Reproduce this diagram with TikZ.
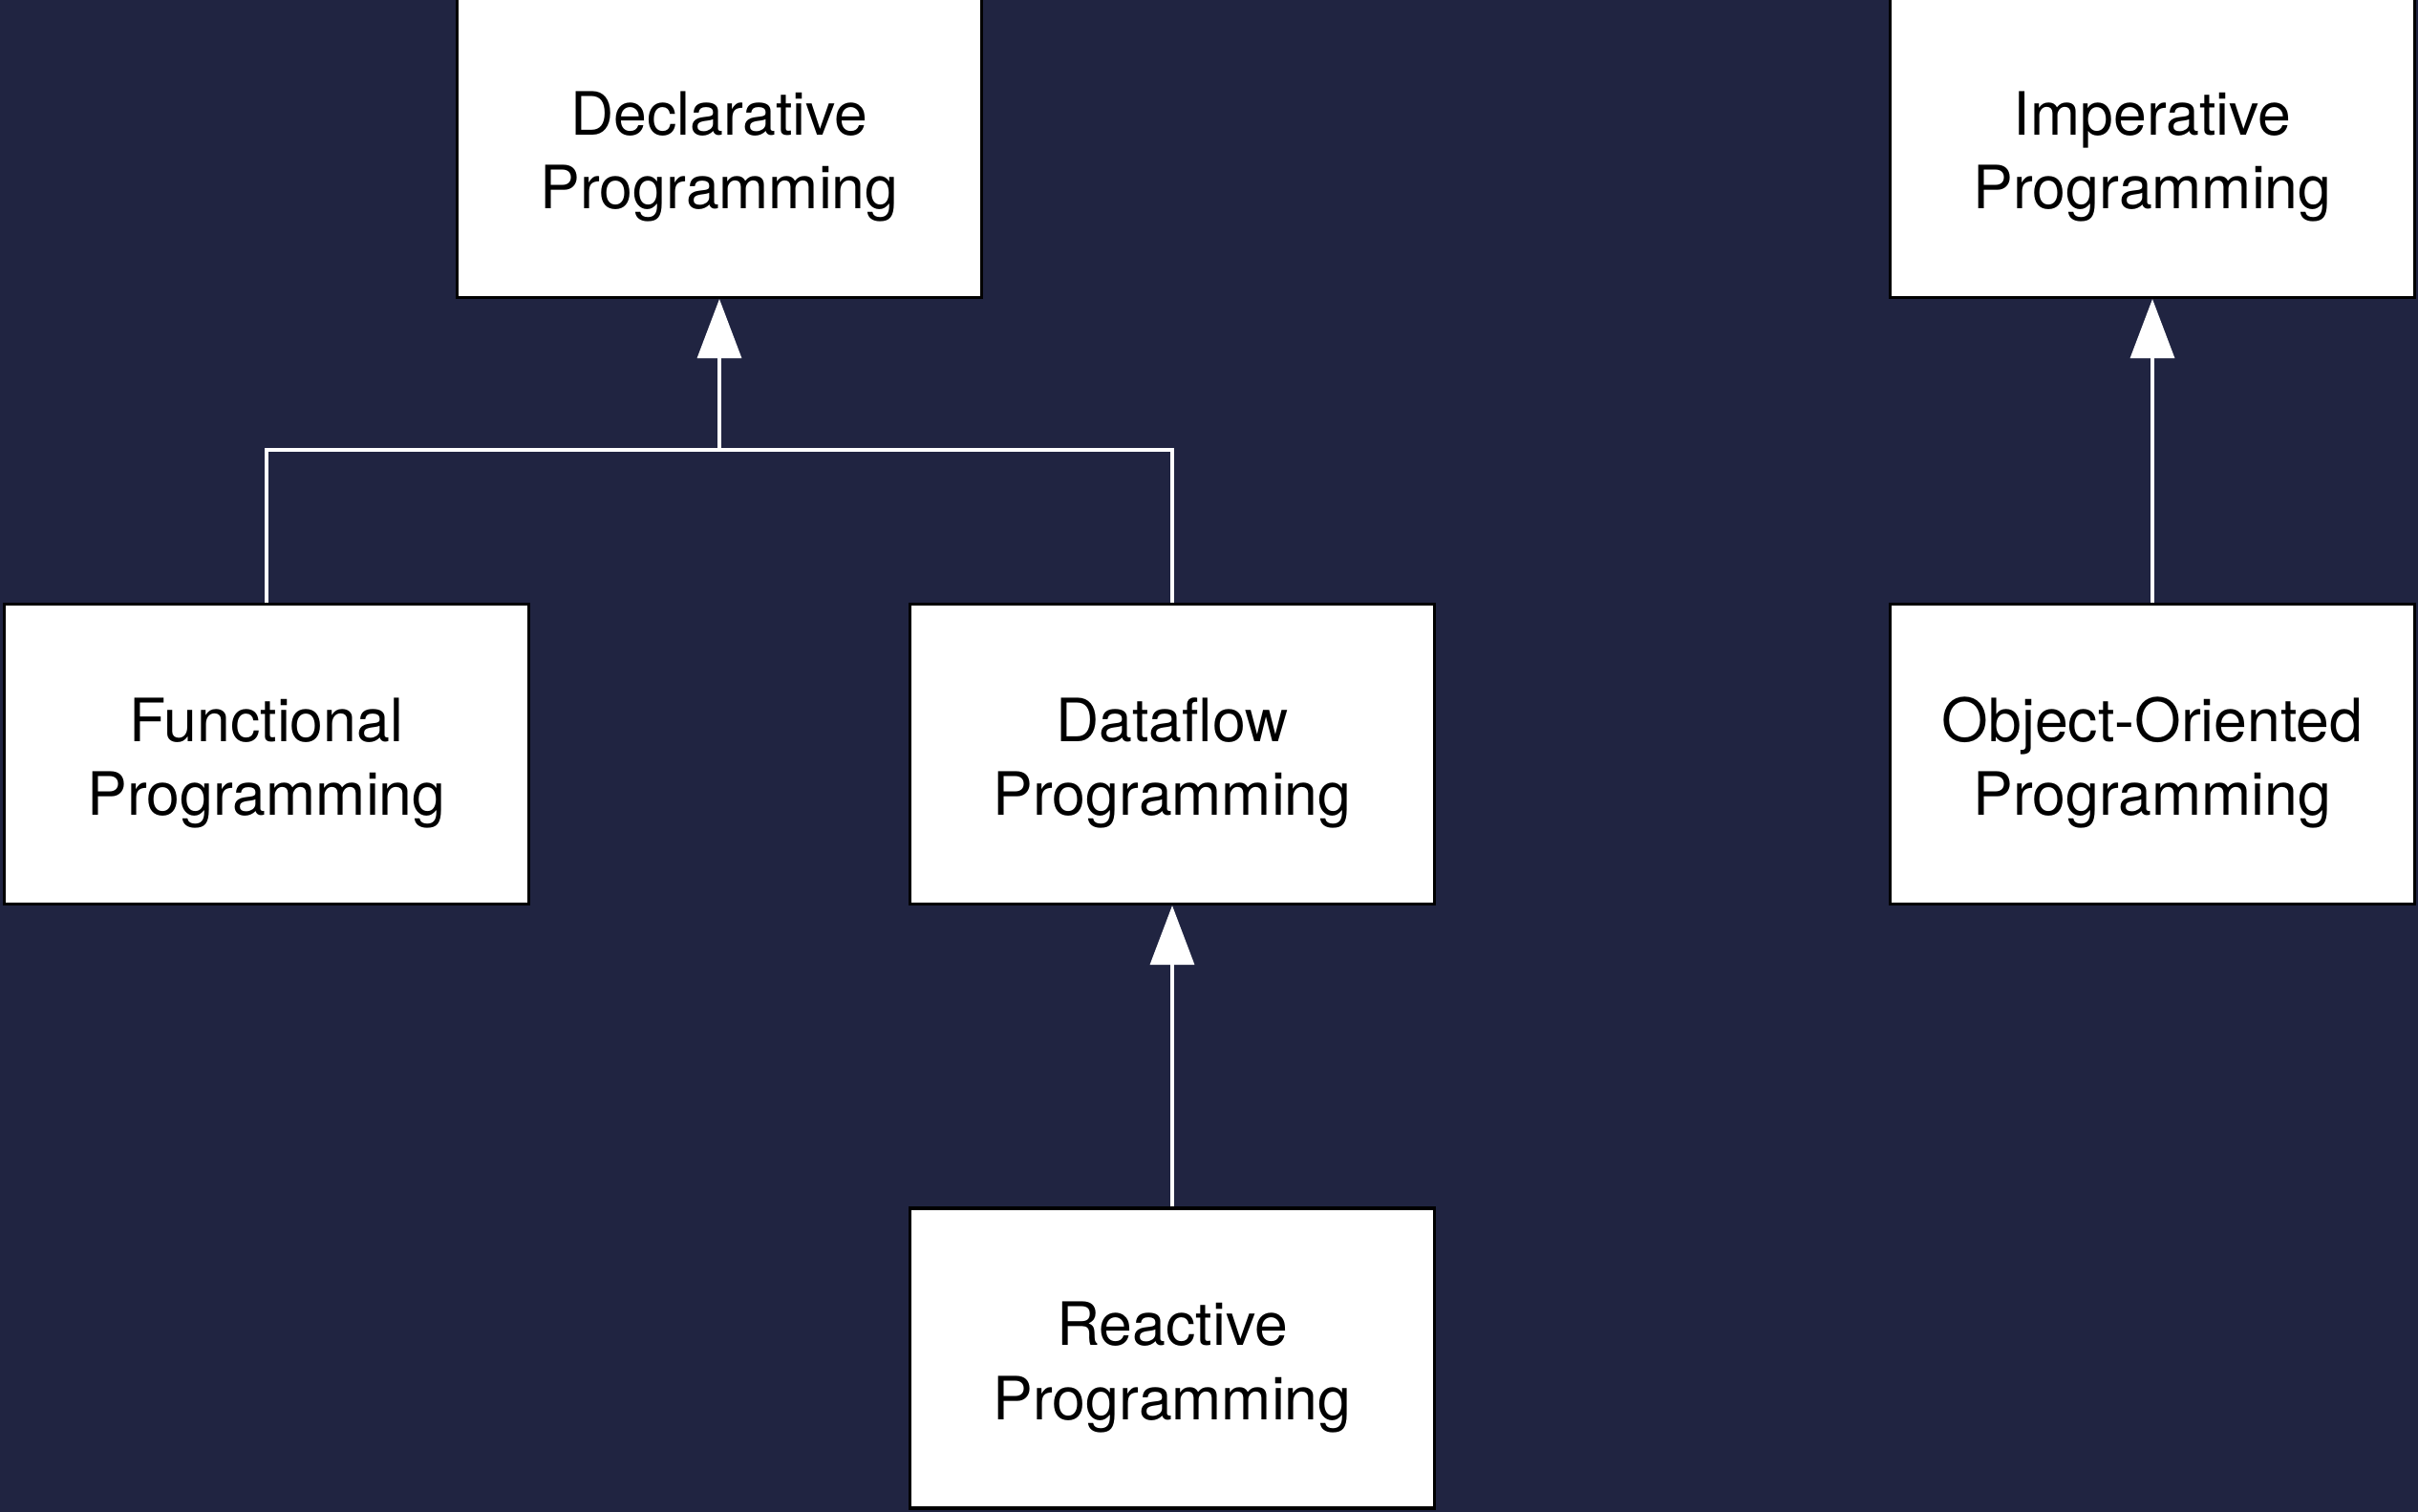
\documentclass[tikz,border=0pt]{standalone}
\usepackage{fontspec}
\setmainfont{TeX Gyre Heros}
\usetikzlibrary{arrows.meta,positioning}
\definecolor{navy}{HTML}{202441}
\newcommand{\twolines}[2]{\raisebox{-0.1cm}[\height][\depth]{\begin{tabular}{@{}c@{}}#1\\#2\end{tabular}}}

\begin{document}
\begin{tikzpicture}[
    prog/.style={draw=black, line width=0.9pt, fill=white, minimum width=5.49cm, minimum height=3.14cm, inner sep=0pt, font=\fontsize{17.8}{22}\selectfont},
    link/.style={draw=white, line width=0.95pt},
    isa/.style={link, -{Triangle[length=0.62cm, width=0.46cm, fill=white]}},
]

\fill[navy] (0,0) rectangle (25.31,-15.83);
\useasboundingbox (0,0) rectangle (25.31,-15.83);

\node[prog] (decl) at (7.53, -1.545) {\twolines{Declarative}{Programming}};
\node[prog] (imp) at (22.53, -1.545) {\twolines{Imperative}{Programming}};
\node[prog] (func) at (2.79, -7.895) {\twolines{Functional}{Programming}};
\node[prog] (data) at (12.27, -7.895) {\twolines{Dataflow}{Programming}};
\node[prog] (oo) at (22.53, -7.895) {\twolines{Object-Oriented}{Programming}};
\node[prog] (react) at (12.27, -14.22) {\twolines{Reactive}{Programming}};

\coordinate[below=1.58cm of decl.south] (join);

\draw[link] (func.north) |- (join) -| (data.north);
\draw[isa] (join) -- (decl.south);
\draw[isa] (react.north) -- (data.south);
\draw[isa] (oo.north) -- (imp.south);

\end{tikzpicture}
\end{document}
